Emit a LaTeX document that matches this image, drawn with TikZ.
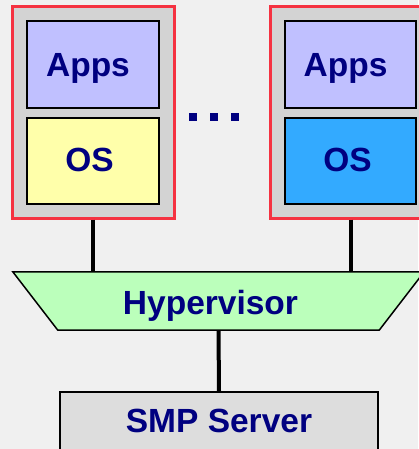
\documentclass[tikz,border=0pt]{standalone}
\usepackage{fontspec}
\setmainfont{Liberation Sans}
\definecolor{bgc}{RGB}{240,240,240}
\definecolor{vmgray}{RGB}{211,211,211}
\definecolor{vmred}{RGB}{245,50,65}
\definecolor{appsc}{RGB}{192,192,255}
\definecolor{osyel}{RGB}{255,255,170}
\definecolor{osblue}{RGB}{51,170,255}
\definecolor{hypc}{RGB}{187,255,187}
\definecolor{smpc}{RGB}{221,221,221}
\definecolor{navytxt}{RGB}{0,0,128}
\tikzset{
  lbl/.style={text=navytxt, font=\fontsize{33.5}{36}\selectfont\bfseries, text height=24pt, text depth=0pt, inner sep=0pt},
  vmbox/.style={draw=vmred, line width=3pt, fill=vmgray, inner sep=0pt},
  layer/.style={draw=black, line width=2pt, inner sep=0pt},
  conn/.style={draw=black, line width=4pt},
  dotsq/.style={fill=navytxt, minimum size=8pt, inner sep=0pt}
}
\begin{document}
\begin{tikzpicture}[x=1pt,y=-1pt]
\fill[bgc] (0,0) rectangle (418,449);
\useasboundingbox (0,0) rectangle (418,449);
% virtual machines
\node[vmbox, minimum width=162pt, minimum height=211pt] (vm1) at (93,112.5) {};
\node[layer, fill=appsc, minimum width=132pt, minimum height=87pt] (apps1) at (93,64.5) {};
\node[layer, fill=osyel, minimum width=132pt, minimum height=86pt] (os1) at (93,161) {};
\node[lbl] (apps1t) at ([xshift=-5pt]apps1.center) {Apps};
\node[lbl] (os1t) at ([xshift=-3.5pt,yshift=1.5pt]os1.center) {OS};
\node[vmbox, minimum width=161pt, minimum height=211pt] (vm2) at (350.5,112.5) {};
\node[layer, fill=appsc, minimum width=131pt, minimum height=87pt] (apps2) at (350.5,64.5) {};
\node[layer, fill=osblue, minimum width=131pt, minimum height=86pt] (os2) at (350.5,161) {};
\node[lbl] (apps2t) at ([xshift=-5pt]apps2.center) {Apps};
\node[lbl] (os2t) at ([xshift=-3pt,yshift=1.5pt]os2.center) {OS};
% ellipsis
\node[dotsq] (d1) at (193,117) {};
\node[dotsq] (d2) at (214,117) {};
\node[dotsq] (d3) at (235,117) {};
% hypervisor
\node[minimum width=411pt, minimum height=58pt, inner sep=0pt] (hyp) at (218.5,301) {};
\filldraw[fill=hypc, draw=black, line width=1.5pt]
  (hyp.north west) -- (hyp.north east) -- ([xshift=-45pt]hyp.south east) -- ([xshift=45pt]hyp.south west) -- cycle;
\node[lbl] (hypt) at (210.5,302.5) {Hypervisor};
% server
\node[draw=black, line width=1.5pt, fill=smpc, minimum width=318pt, minimum height=58pt, inner sep=0pt] (smp) at (219,421) {};
\node[lbl] (smpt) at (219,420.5) {SMP Server};
% connectors
\draw[conn] (vm1.south) -- (vm1.south |- hyp.north);
\draw[conn] (vm2.south) -- (vm2.south |- hyp.north);
\draw[conn] (hyp.south) -- (smp.north);
\end{tikzpicture}
\end{document}
